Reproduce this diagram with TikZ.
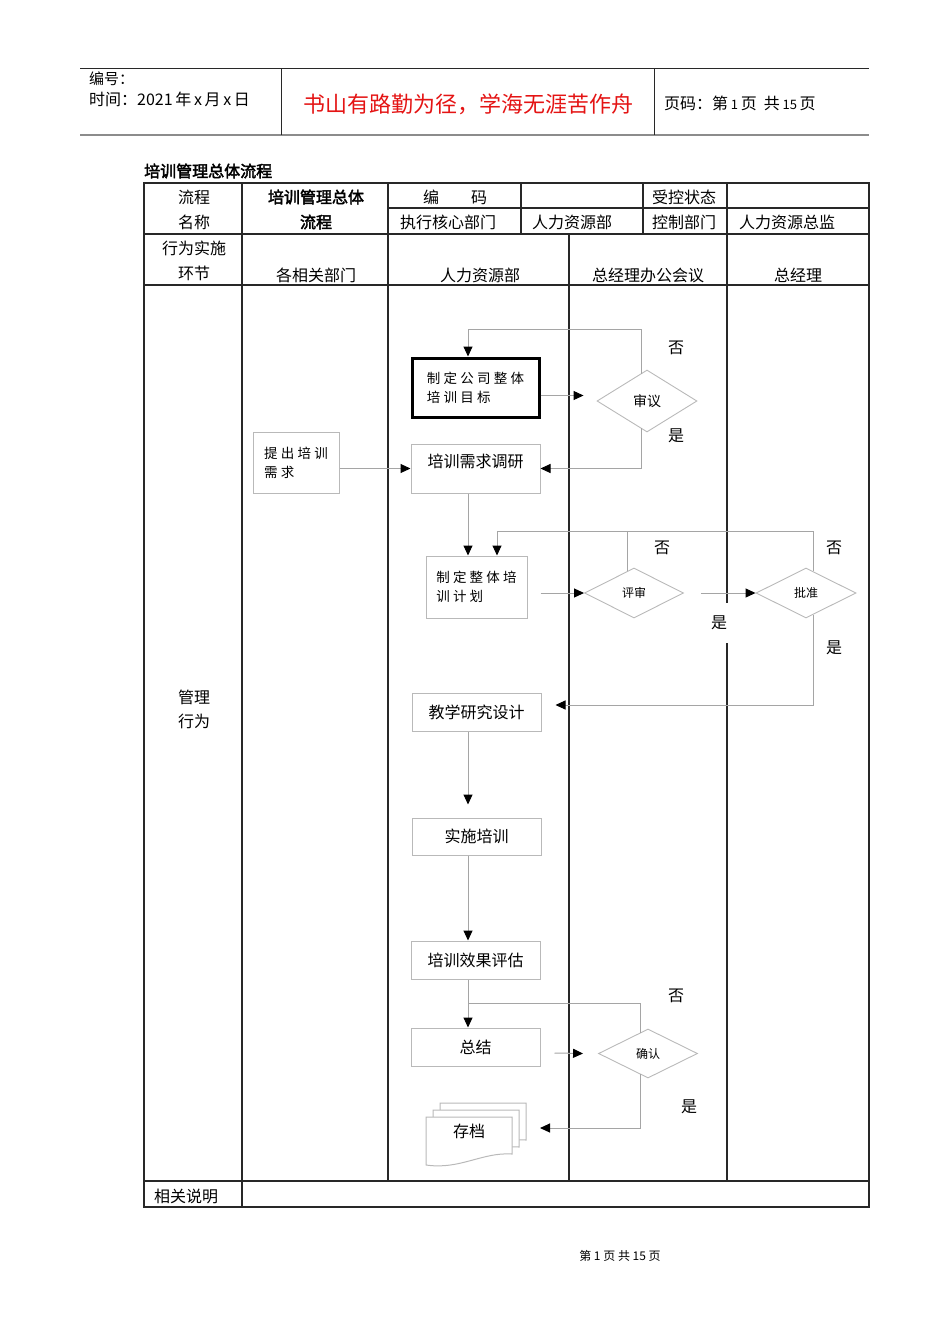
\documentclass[tikz,border=0pt]{standalone}
\usepackage{fontspec}
\setmainfont{Noto Sans CJK SC}[AutoFakeBold=2.5]
\newfontfamily\widecjk{Noto Sans CJK SC}[LetterSpace=24]
\usetikzlibrary{arrows.meta,shapes.geometric}
\definecolor{redtitle}{RGB}{228,20,20}
\definecolor{gridline}{RGB}{40,40,40}
\definecolor{flowgray}{RGB}{165,165,165}
\definecolor{boxgray}{RGB}{185,185,185}
\tikzset{
  fs/.style={font=\fontsize{#1}{#1}\selectfont},
  cell/.style={fs=16, inner sep=0},
  grid/.style={draw=gridline, line width=1.2pt},
  box/.style={draw=boxgray, line width=1pt, rectangle, inner sep=2pt, align=left, fs=16},
  dia/.style={draw=boxgray, line width=0.9pt, diamond, inner sep=0, fs=12},
  line/.style={draw=flowgray, line width=1pt},
  flow/.style={line, -{Triangle[length=10pt,width=9pt,color=black]}},
  yesno/.style={fs=16, inner sep=1pt},
  page/.style={draw=boxgray, line width=1pt, fill=white}
}
\begin{document}
\begin{tikzpicture}[x=1pt,y=-1pt]
\useasboundingbox (0,0) rectangle (950,1344);

% page header
\draw[gridline, line width=1pt] (80,68) -- (869,68);
\draw[black!45, line width=2pt] (80,135) -- (869,135);
\draw[gridline, line width=1pt] (281,68) -- (281,135);
\draw[gridline, line width=1pt] (654,68) -- (654,135);
\node[fs=15, anchor=west, inner sep=0] (hdnum) at (89,79) {编号：};
\node[fs=16, anchor=west, inner sep=0] (hddate) at (89,99) {时间：2021\,年\,x\,月\,x\,日};
\node[fs=22, text=redtitle, inner sep=0] (motto) at (468,104) {书山有路勤为径，学海无涯苦作舟};
\node[fs=16, anchor=west, inner sep=0] (hdpage) at (664,103) {页码：第\,{\fontsize{13}{15}\selectfont 1}\,页\ \ 共\,{\fontsize{13}{15}\selectfont 15}\,页};

% title
\node[font=\fontsize{16}{16}\selectfont\bfseries, anchor=west, inner sep=0] (title) at (144,171) {培训管理总体流程};

% table frame
\draw[grid] (144,183) rectangle (869,1207);
\draw[grid] (388,208) -- (869,208);
\draw[grid] (144,234) -- (869,234);
\draw[grid] (144,285) -- (869,285);
\draw[grid] (144,1181) -- (869,1181);
\draw[grid] (242,183) -- (242,1207);
\draw[grid] (388,183) -- (388,1181);
\draw[grid] (521,183) -- (521,234);
\draw[grid] (643,183) -- (643,234);
\draw[grid] (727,183) -- (727,1181);
\draw[grid] (569,234) -- (569,1181);

% table texts
\node[cell] (t1) at (194,197) {流程};
\node[cell] (t2) at (194,222) {名称};
\node[cell, font=\fontsize{16}{16}\selectfont\bfseries] (t3) at (316,197) {培训管理总体};
\node[cell, font=\fontsize{16}{16}\selectfont\bfseries] (t4) at (316,222) {流程};
\node[cell] (t5) at (455,197) {编\hspace{2em}码};
\node[cell] (t6) at (684,197) {受控状态};
\node[cell] (t7) at (448,222) {执行核心部门};
\node[cell] (t8) at (572,222) {人力资源部};
\node[cell] (t9) at (684,222) {控制部门};
\node[cell] (t10) at (787,222) {人力资源总监};
\node[cell] (t11) at (194,248) {行为实施};
\node[cell] (t12) at (194,273) {环节};
\node[cell] (t13) at (316,275) {各相关部门};
\node[cell] (t14) at (480,275) {人力资源部};
\node[cell] (t15) at (648,275) {总经理办公会议};
\node[cell] (t16) at (798,275) {总经理};
\node[cell] (t17) at (194,697) {管理};
\node[cell] (t18) at (194,721) {行为};
\node[cell] (t19) at (186,1196) {相关说明};

% flow boxes
\node[box, draw=black, line width=3pt, minimum width=127pt, minimum height=59pt, font=\widecjk\fontsize{13.5}{19}\selectfont] (goal) at (475.5,387.5) {制定公司整体\\培训目标};
\node[dia, minimum width=100pt, minimum height=62pt, fs=14] (review) at (647,401) {审议};
\node[box, minimum width=86pt, minimum height=61pt, font=\widecjk\fontsize{13.5}{19}\selectfont] (need) at (296,462.5) {提出培训\\需求};
\node[box, minimum width=129pt, minimum height=49pt, text depth=16pt] (survey) at (475.5,468.5) {培训需求调研};
\node[box, minimum width=101pt, minimum height=62pt, font=\widecjk\fontsize{13.5}{19}\selectfont] (plan) at (476.5,587) {制定整体培\\训计划};
\node[dia, minimum width=99pt, minimum height=50pt] (assess) at (634,593) {评审};
\node[dia, minimum width=100pt, minimum height=50pt] (approve) at (806,593) {批准};
\node[box, minimum width=129pt, minimum height=38pt] (design) at (476.5,712) {教学研究设计};
\node[box, minimum width=129pt, minimum height=37pt] (train) at (476.5,836.5) {实施培训};
\node[box, minimum width=129pt, minimum height=38pt] (eval) at (475.5,960) {培训效果评估};
\node[box, minimum width=129pt, minimum height=38pt] (summary) at (475.5,1047) {总结};
\node[dia, minimum width=99pt, minimum height=49pt] (confirm) at (648,1053.5) {确认};

% stacked documents
\draw[page] (440,1103) -- (526,1103) -- (526,1140) .. controls (496,1138) and (474,1156) .. (440,1151) -- cycle;
\draw[page] (433,1110) -- (519,1110) -- (519,1147) .. controls (489,1145) and (467,1163) .. (433,1158) -- cycle;
\draw[page] (426,1117) -- (512,1117) -- (512,1154) .. controls (482,1152) and (460,1170) .. (426,1165) -- cycle;
\node[fs=16, inner sep=0] (archive) at (469,1131) {存档};
\coordinate (archin) at (540,1128);

% helper points
\coordinate (g1) at ([yshift=-8pt]goal.east);
\coordinate (p1) at ([xshift=13pt]plan.east);
\coordinate (a1) at ([xshift=-7pt,yshift=-3.5pt]assess.north);
\coordinate (loop2) at ([xshift=20.5pt,yshift=24pt]plan.north);
\coordinate (j1) at ([xshift=-7.5pt,yshift=-24pt]eval.south);

% connectors
\draw[flow] (g1) -- ([xshift=-13pt]review.west |- g1);
\draw[flow] ([xshift=-6pt,yshift=-4pt]review.north) |- ([xshift=-7.5pt,yshift=27pt]goal.north) -- ([xshift=-7.5pt]goal.north);
\draw[flow] ([xshift=-6pt,yshift=4pt]review.south) |- (survey.east);
\draw[flow] (need.east |- survey.west) -- (survey.west);
\draw[flow] ([xshift=-7.5pt]survey.south) -- ([xshift=-7.5pt]survey.south |- plan.north);
\draw[flow] (p1 |- assess.west) -- (assess.west);
\draw[flow] (a1) |- (loop2) -- (loop2 |- plan.north);
\draw[line] ([xshift=7pt,yshift=-3.5pt]approve.north) |- (loop2 -| a1);
\draw[flow] ([xshift=17pt]assess.east) -- (approve.west);
\draw[flow] ([xshift=7pt,yshift=3.5pt]approve.south) |- ([xshift=14pt,yshift=7pt]design.east);
\draw[flow] ([xshift=-8.5pt]design.south) -- ([xshift=-8.5pt,yshift=13pt]train.north);
\draw[flow] ([xshift=-8.5pt]train.south) -- ([xshift=-8.5pt]train.south |- eval.north);
\draw[flow] ([xshift=-7.5pt]eval.south) -- ([xshift=-7.5pt]summary.north);
\draw[line] ([xshift=-8pt,yshift=-4pt]confirm.north) |- (j1);
\draw[flow] ([xshift=14pt,yshift=-6pt]summary.east) -- ([xshift=-15pt]confirm.west);
\draw[flow] ([xshift=-8pt,yshift=4pt]confirm.south) |- (archin);

% yes / no labels
\node[yesno] (no1) at (676,348) {否};
\node[yesno] (yes1) at (676,436) {是};
\node[yesno] (no2) at (662,548) {否};
\node[yesno] (no3) at (834,548) {否};
\node[yesno, fill=white, minimum height=40pt, minimum width=22pt] (yes2) at (719,623) {是};
\node[yesno] (yes3) at (834,648) {是};
\node[yesno] (no4) at (676,996) {否};
\node[yesno] (yes4) at (689,1107) {是};

% footer
\node[fs=12, inner sep=0] (foot) at (620,1256) {第 1 页 共 15 页};
\end{tikzpicture}
\end{document}
